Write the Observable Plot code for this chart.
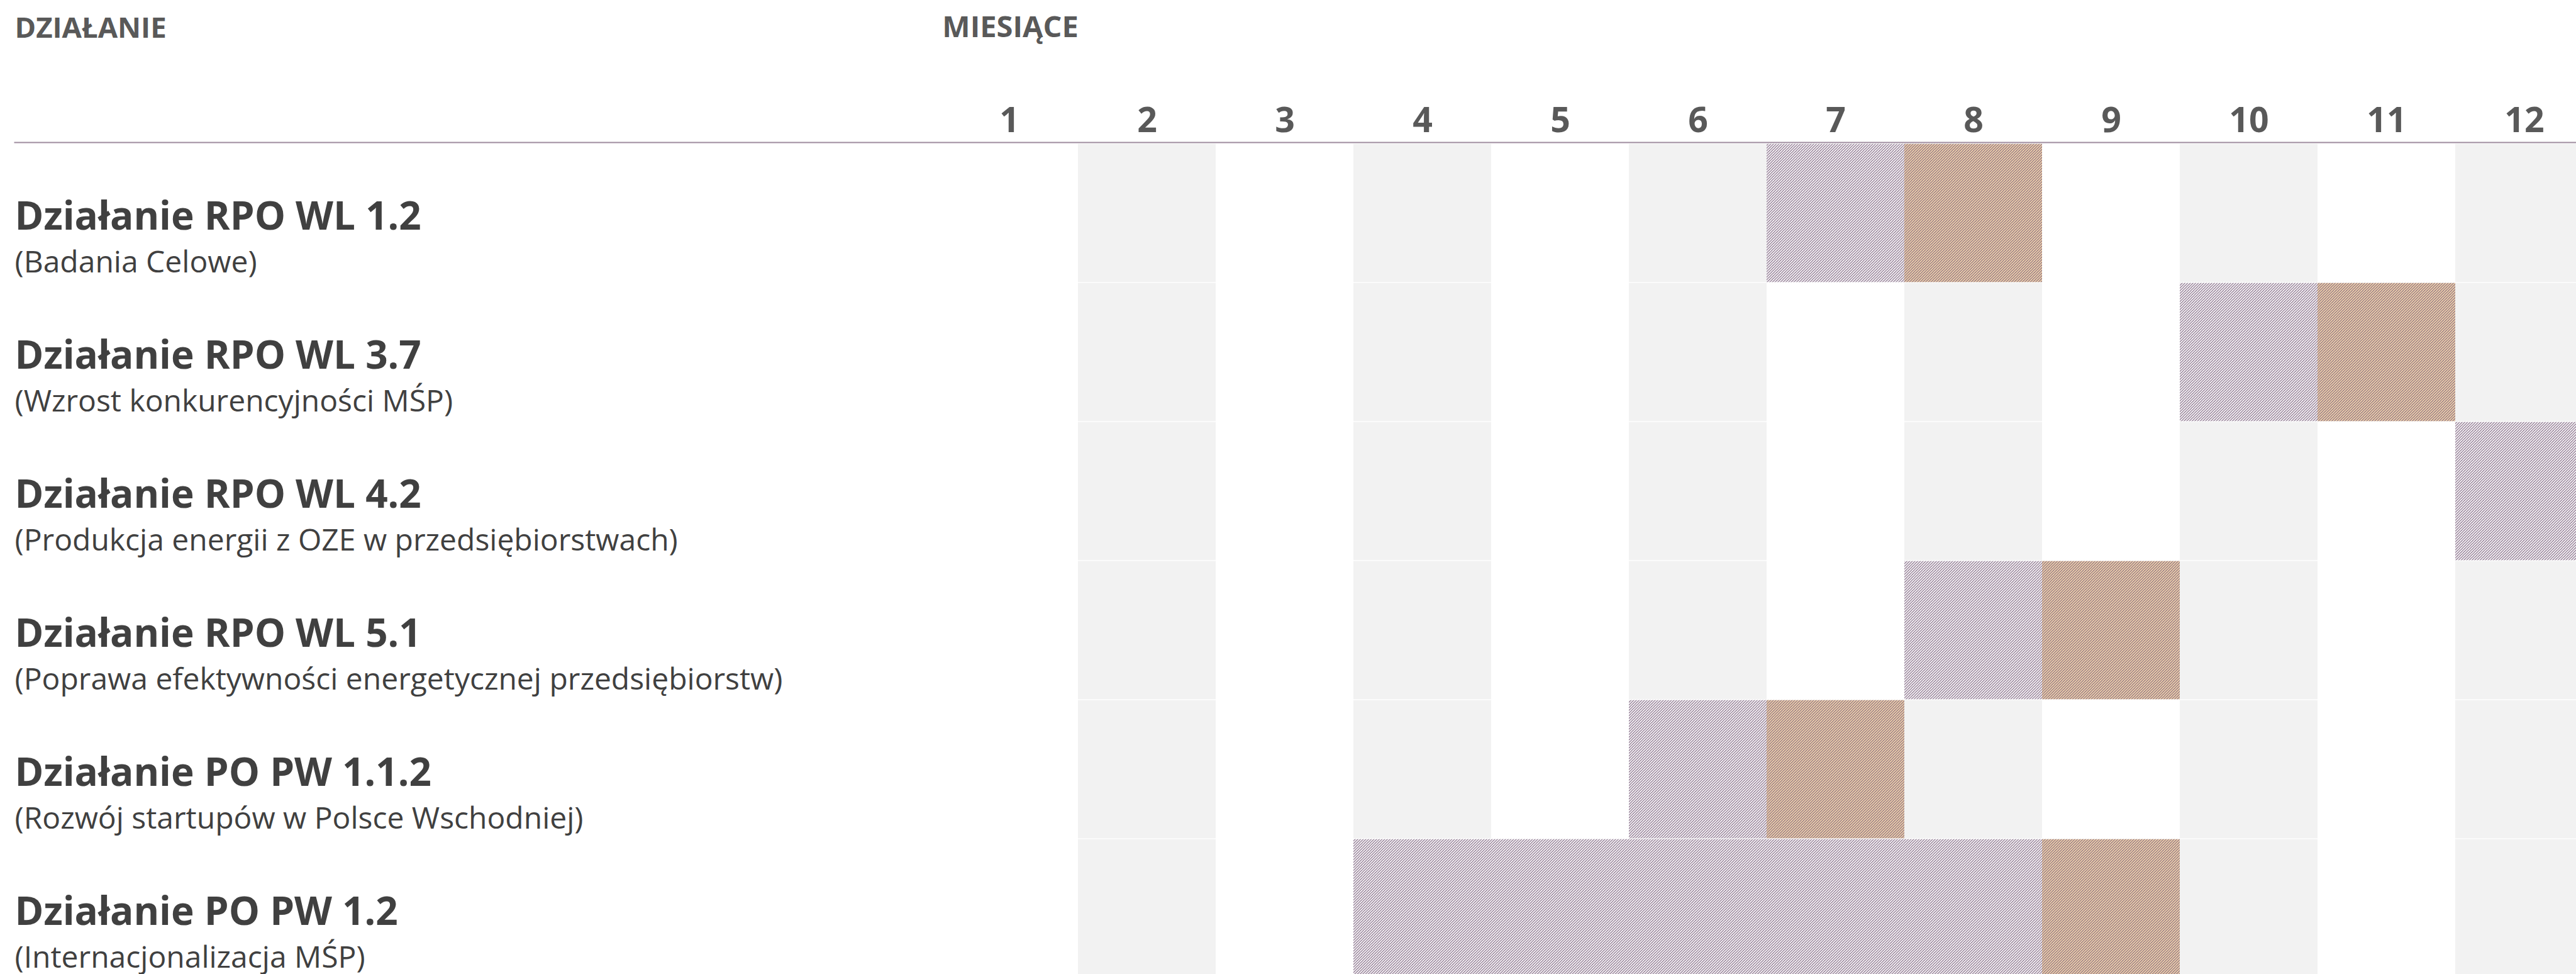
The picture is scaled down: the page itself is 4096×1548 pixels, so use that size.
<!DOCTYPE html>
<html>
<head>
<meta charset="utf-8">
<script src="https://cdn.jsdelivr.net/npm/d3@7"></script>
<script src="https://cdn.jsdelivr.net/npm/@observablehq/plot@0.6"></script>
<style>
  html, body { margin: 0; padding: 0; background: #ffffff; overflow: hidden; }
  #chart svg { display: block; }
</style>
</head>
<body>
<div id="chart"></div>
<script>
// ---- data ----
const months = [1, 2, 3, 4, 5, 6, 7, 8, 9, 10, 11, 12];
const activities = [
  "Działanie RPO WL 1.2",
  "Działanie RPO WL 3.7",
  "Działanie RPO WL 4.2",
  "Działanie RPO WL 5.1",
  "Działanie PO PW 1.1.2",
  "Działanie PO PW 1.2"
];
const descriptions = [
  "(Badania Celowe)",
  "(Wzrost konkurencyjności MŚP)",
  "(Produkcja energii z OZE w przedsiębiorstwach)",
  "(Poprawa efektywności energetycznej przedsiębiorstw)",
  "(Rozwój startupów w Polsce Wschodniej)",
  "(Internacjonalizacja MŚP)"
];
const stripeMonths = [2, 4, 6, 8, 10, 12];
const prepMonths = [[7], [10], [12], [8], [6], [4, 5, 6, 7, 8]];
const callMonths = [[8], [11], [], [9], [7], [9]];
const headerLeft = "DZIAŁANIE";
const headerMonths = "MIESIĄCE";

// ---- tables ----
const stripes = activities.flatMap(a => stripeMonths.map(m => ({activity: a, month: m})));
const prep = activities.flatMap((a, i) => prepMonths[i].map(m => ({activity: a, month: m})));
const calls = activities.flatMap((a, i) => callMonths[i].map(m => ({activity: a, month: m})));
const rows = activities.map((a, i) => ({activity: a, desc: descriptions[i]}));

// ---- layout (output px) ----
const W = 4096, H = 1548;
const xStart = 1493.8, colW = 219.26;
const yStart = 227.5, rowH = 221.14;
const lineY = 226;

const plot = Plot.plot({
  width: W,
  height: H,
  marginLeft: 23,
  marginRight: 0,
  marginTop: lineY,
  marginBottom: 0,
  style: {fontFamily: "'Open Sans', sans-serif", background: "#ffffff", overflow: "hidden"},
  x: {type: "band", domain: months, range: [xStart, xStart + 12 * colW], padding: 0, axis: null},
  y: {type: "band", domain: activities, range: [yStart, yStart + 6 * rowH], padding: 0, axis: null},
  marks: [
    Plot.cell(stripes, {x: "month", y: "activity", fill: "#f2f2f2", insetTop: 0.65, insetBottom: 0.65}),
    Plot.cell(prep, {x: "month", y: "activity", fill: "url(#hatchPrep)", insetTop: 0.65, insetBottom: 0.65}),
    Plot.cell(calls, {x: "month", y: "activity", fill: "url(#hatchCall)", insetTop: 0.65, insetBottom: 0.65}),
    Plot.frame({anchor: "top", stroke: "#9e8b9e", strokeWidth: 2}),
    Plot.axisX({anchor: "top", tickSize: 0, tickPadding: 16.7, fontSize: 55.4, fontWeight: 700, color: "#595959", label: null}),
    Plot.text([headerLeft], {text: d => d, frameAnchor: "top-left", textAnchor: "start", lineAnchor: "bottom", dy: -166.3, fontSize: 45.5, fontWeight: 700, fill: "#595959"}),
    Plot.text([{m: months[0], t: headerMonths}], {x: "m", text: "t", frameAnchor: "top", textAnchor: "start", lineAnchor: "bottom", dx: -colW / 2 + 3, dy: -167.5, fontSize: 47, fontWeight: 700, fill: "#595959"}),
    Plot.text(rows, {y: "activity", text: "activity", frameAnchor: "left", textAnchor: "start", lineAnchor: "bottom", dy: 25.9, fontSize: 62, fontWeight: 700, fill: "#404040"}),
    Plot.text(rows, {y: "activity", text: "desc", frameAnchor: "left", textAnchor: "start", lineAnchor: "bottom", dy: 94.1, fontSize: 48, fontWeight: 400, fill: "#404040"})
  ]
});

// hatch patterns
const P = 4.27, sw = 1.12;
const svgSel = d3.select(plot.tagName.toLowerCase() === "svg" ? plot : plot.querySelector("svg"));
const defs = svgSel.insert("defs", ":first-child");
function addPattern(id, bg) {
  const p = defs.append("pattern")
    .attr("id", id)
    .attr("patternUnits", "userSpaceOnUse")
    .attr("width", P).attr("height", P);
  p.append("rect").attr("width", P).attr("height", P).attr("fill", bg);
  p.append("path")
    .attr("d", `M0,${P}L${P},0M${-P/2},${P/2}L${P/2},${-P/2}M${P/2},${1.5*P}L${1.5*P},${P/2}`)
    .attr("stroke", "#7a5f7c")
    .attr("stroke-width", sw)
    .attr("fill", "none");
}
addPattern("hatchPrep", "#ffffff");
addPattern("hatchCall", "#f8daad");

document.getElementById("chart").appendChild(plot);
</script>
</body>
</html>
